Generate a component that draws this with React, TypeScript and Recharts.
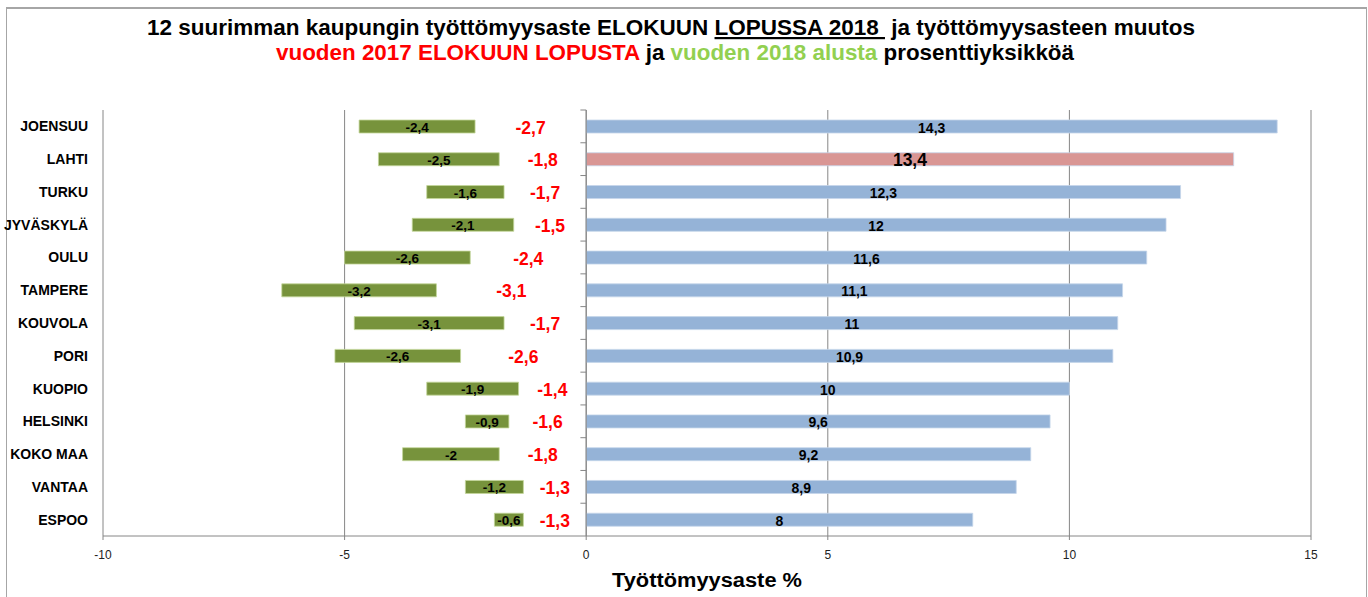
import React from "react";
import {
  BarChart,
  Bar,
  XAxis,
  YAxis,
  CartesianGrid,
  ReferenceLine,
  LabelList,
  Cell,
} from "recharts";

const cities = [
  "JOENSUU",
  "LAHTI",
  "TURKU",
  "JYVÄSKYLÄ",
  "OULU",
  "TAMPERE",
  "KOUVOLA",
  "PORI",
  "KUOPIO",
  "HELSINKI",
  "KOKO MAA",
  "VANTAA",
  "ESPOO",
];
const rateAug2018 = [14.3, 13.4, 12.3, 12, 11.6, 11.1, 11, 10.9, 10, 9.6, 9.2, 8.9, 8];
const changeSinceAug2017 = [-2.7, -1.8, -1.7, -1.5, -2.4, -3.1, -1.7, -2.6, -1.4, -1.6, -1.8, -1.3, -1.3];
const changeSinceJan2018 = [-2.4, -2.5, -1.6, -2.1, -2.6, -3.2, -3.1, -2.6, -1.9, -0.9, -2, -1.2, -0.6];
// the green bar hangs off the end of an invisible segment (JOENSUU is a bit off in the source)
const greenBarStart = [-2.3, -1.8, -1.7, -1.5, -2.4, -3.1, -1.7, -2.6, -1.4, -1.6, -1.8, -1.3, -1.3];
const xTicks = [-10, -5, 0, 5, 10, 15];
const highlighted = "LAHTI";

const data = cities.map((city, i) => ({
  city,
  gap: greenBarStart[i],
  since2017: changeSinceAug2017[i],
  since2018: changeSinceJan2018[i],
  rate: rateAug2018[i],
}));

const fmt = (v: number) => String(v).replace(".", ",");
const FONT = "'Liberation Sans', Arial, sans-serif";
const GRID = "#868686";

// LabelList content: centred text on the bar rectangle
const centered =
  (color: string, size: number, bigSize?: number) =>
  (props: any) => {
    const vb = props.viewBox ?? props;
    const { x, y, width, height } = vb;
    const big = bigSize && cities[props.index] === highlighted;
    return (
      <text
        x={x + width / 2}
        y={y + height / 2 + 1}
        textAnchor="middle"
        dominantBaseline="central"
        fill={color}
        fontFamily={FONT}
        fontWeight="bold"
        fontSize={big ? bigSize : size}
      >
        {fmt(props.value)}
      </text>
    );
  };

export default function App() {
  return (
    <div
      style={{
        position: "absolute",
        left: 0,
        top: 0,
        width: 1368,
        height: 597,
        background: "#fff",
        overflow: "hidden",
      }}
    >
      <div
        style={{
          position: "absolute",
          left: 6,
          top: 7,
          width: 1359,
          height: 600,
          border: "1px solid #a6a6a6",
          borderTopWidth: 2,
        }}
      />
      <div style={{ position: "absolute", left: 0, top: 0 }}>
        <BarChart
          width={1368}
          height={597}
          data={data}
          layout="vertical"
          stackOffset="sign"
          barSize={13}
          margin={{ top: 110, right: 57, bottom: 31, left: 0 }}
        >
          <CartesianGrid horizontal={false} stroke={GRID} />
          <XAxis
            type="number"
            domain={[-10, 15]}
            ticks={xTicks}
            interval={0}
            height={30}
            axisLine={{ stroke: GRID }}
            tickLine={{ stroke: GRID }}
            tickSize={4}
            tickMargin={10}
            tick={{ fill: "#222", fontSize: 12, fontFamily: FONT }}
          />
          <YAxis
            type="category"
            dataKey="city"
            width={103}
            axisLine={false}
            tickLine={false}
            tickSize={0}
            tickMargin={15}
            interval={0}
            tick={{ fill: "#000", fontSize: 14, fontWeight: "bold", fontFamily: FONT }}
          />
          <Bar dataKey="gap" stackId="s" fill="transparent" isAnimationActive={false}>
            <LabelList dataKey="since2017" content={centered("#FF0000", 17.5)} />
          </Bar>
          <Bar
            dataKey="since2018"
            stackId="s"
            fill="#77933C"
            stroke="#c4d79b"
            strokeWidth={0.8}
            isAnimationActive={false}
          >
            <LabelList dataKey="since2018" content={centered("#000", 13.5)} />
          </Bar>
          <Bar
            dataKey="rate"
            stackId="s"
            stroke="#c5d6ea"
            strokeWidth={0.8}
            isAnimationActive={false}
          >
            {data.map((d) => (
              <Cell key={d.city} fill={d.city === highlighted ? "#D99694" : "#95B3D7"} />
            ))}
            <LabelList dataKey="rate" content={centered("#000", 14, 17.5)} />
          </Bar>
          <ReferenceLine x={0} stroke={GRID} />
          {cities.map((c) => (
            <ReferenceLine
              key={c}
              segment={[
                { x: -0.12, y: c },
                { x: 0, y: c },
              ]}
              position="start"
              stroke={GRID}
              ifOverflow="visible"
            />
          ))}
        </BarChart>
      </div>
      <svg
        width={1368}
        height={597}
        style={{ position: "absolute", left: 0, top: 0, pointerEvents: "none" }}
      >
        <text
          x={147}
          y={35}
          fontFamily={FONT}
          fontWeight="bold"
          fontSize={22}
          textLength={1048}
          lengthAdjust="spacingAndGlyphs"
          style={{ whiteSpace: "pre" }}
        >
          12 suurimman kaupungin työttömyysaste ELOKUUN{" "}
          <tspan style={{ textDecoration: "underline" }}>LOPUSSA 2018 </tspan> ja
          työttömyysasteen muutos
        </text>
        <text
          x={276}
          y={60}
          fontFamily={FONT}
          fontWeight="bold"
          fontSize={22}
          textLength={798}
          lengthAdjust="spacingAndGlyphs"
          style={{ whiteSpace: "pre" }}
        >
          <tspan fill="#FF0000">vuoden 2017 ELOKUUN LOPUSTA</tspan>
          <tspan fill="#000"> ja </tspan>
          <tspan fill="#92D050">vuoden 2018 alusta</tspan>
          <tspan fill="#000"> prosenttiyksikköä</tspan>
        </text>
        <text
          x={612}
          y={587}
          fontFamily={FONT}
          fontWeight="bold"
          fontSize={20}
          textLength={190}
          lengthAdjust="spacingAndGlyphs"
        >
          Työttömyysaste %
        </text>
      </svg>
    </div>
  );
}
